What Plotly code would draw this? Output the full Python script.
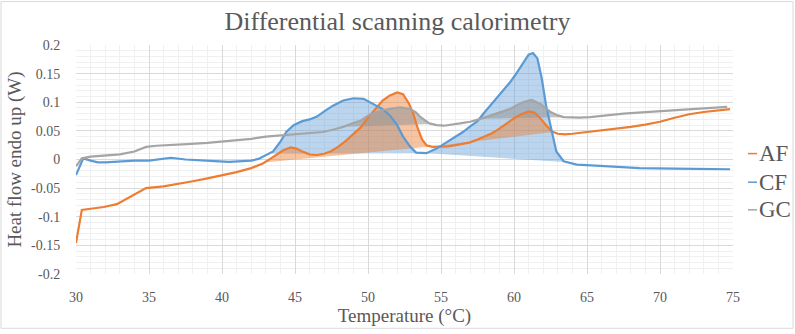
import numpy as np
import plotly.graph_objects as go

# ---------------- data ----------------
series_names = ["AF", "CF", "GC"]

af_t = [30.0, 30.4, 31.0, 31.9, 32.8, 33.5, 34.2, 34.8, 36.0, 37.0, 38.0, 39.0, 40.0, 41.0, 42.0,
        42.8, 43.3, 43.7, 44.2, 44.7, 45.1, 45.5, 46.0, 46.5, 47.0, 47.5, 48.0, 48.5, 49.0, 49.5,
        50.0, 50.5, 51.0, 51.5, 52.0, 52.4, 52.8, 53.1, 53.4, 53.7, 54.0, 54.4, 55.0, 55.5, 56.0,
        56.5, 57.0, 57.5, 58.0, 58.5, 59.0, 59.5, 60.0, 60.5, 61.0, 61.4, 61.8, 62.2, 62.6, 63.0,
        63.5, 64.0, 65.0, 66.0, 67.0, 68.0, 69.0, 70.0, 71.0, 72.0, 73.0, 74.0, 74.8]
af_y = [-0.146, -0.088, -0.086, -0.083, -0.078, -0.068, -0.058, -0.050, -0.047, -0.043, -0.038,
        -0.033, -0.028, -0.022, -0.015, -0.007, 0.001, 0.008, 0.016, 0.021, 0.019, 0.014, 0.009,
        0.008, 0.010, 0.015, 0.023, 0.033, 0.044, 0.056, 0.073, 0.088, 0.103, 0.112, 0.117, 0.114,
        0.098, 0.080, 0.055, 0.035, 0.025, 0.022, 0.022, 0.023, 0.025, 0.027, 0.030, 0.035, 0.040,
        0.046, 0.054, 0.063, 0.072, 0.079, 0.084, 0.082, 0.072, 0.060, 0.049, 0.045, 0.044, 0.045,
        0.048, 0.051, 0.053, 0.057, 0.061, 0.066, 0.073, 0.079, 0.083, 0.086, 0.088]

cf_t = [30.0, 30.2, 30.5, 31.0, 31.5, 32.0, 33.0, 34.0, 35.0, 36.0, 36.5, 37.5, 38.5, 39.5, 40.5,
        41.5, 42.0, 42.5, 42.8, 43.2, 43.5, 44.0, 44.4, 44.9, 45.5, 46.0, 46.5, 47.0, 47.6, 48.3,
        49.0, 49.7, 50.4, 51.0, 51.5, 52.0, 52.4, 52.9, 53.3, 54.0, 54.7, 55.6, 56.5, 57.0, 57.5,
        57.9, 58.4, 58.8, 59.3, 59.7, 60.1, 60.4, 60.7, 61.0, 61.3, 61.6, 61.9, 62.2, 62.6, 62.9,
        63.4, 64.3, 65.9, 68.6, 71.0, 74.8]
cf_y = [-0.027, -0.015, 0.002, -0.002, -0.005, -0.005, -0.003, -0.002, -0.002, 0.001, 0.003,
        0.000, -0.002, -0.003, -0.004, -0.003, -0.002, 0.001, 0.005, 0.009, 0.014, 0.031, 0.048,
        0.060, 0.067, 0.070, 0.075, 0.084, 0.094, 0.103, 0.107, 0.106, 0.097, 0.088, 0.077, 0.060,
        0.040, 0.022, 0.012, 0.011, 0.019, 0.034, 0.048, 0.058, 0.067, 0.080, 0.095, 0.108, 0.121,
        0.134, 0.148, 0.160, 0.172, 0.183, 0.186, 0.177, 0.142, 0.094, 0.048, 0.014, -0.003,
        -0.009, -0.011, -0.015, -0.016, -0.017]

gc_t = [30.0, 30.4, 31.0, 31.9, 33.0, 34.0, 34.8, 35.5, 36.5, 37.6, 39.0, 40.0, 41.0, 42.0, 43.0,
        44.0, 45.1, 46.0, 46.9, 47.6, 48.3, 48.8, 49.5, 50.1, 50.6, 51.0, 51.6, 52.2, 52.9, 53.3,
        53.6, 54.2, 54.7, 55.2, 56.3, 57.0, 57.7, 58.4, 59.0, 59.7, 60.2, 60.6, 61.2, 61.8, 62.5,
        63.0, 63.4, 64.5, 65.2, 65.9, 67.5, 69.8, 72.1, 73.5, 74.6]
gc_y = [-0.012, 0.002, 0.005, 0.007, 0.009, 0.014, 0.022, 0.024, 0.026, 0.027, 0.029, 0.031,
        0.033, 0.036, 0.040, 0.042, 0.044, 0.046, 0.048, 0.052, 0.057, 0.062, 0.068, 0.078, 0.083,
        0.086, 0.089, 0.091, 0.088, 0.082, 0.074, 0.063, 0.060, 0.059, 0.063, 0.066, 0.071, 0.077,
        0.082, 0.088, 0.095, 0.100, 0.104, 0.097, 0.083, 0.077, 0.074, 0.073, 0.074, 0.076, 0.080,
        0.084, 0.088, 0.090, 0.092]

# integration windows (peak start / end temperatures)
af_peaks = [(42.9, 54.3), (54.3, 62.7)]
cf_peaks = [(43.3, 53.9), (53.9, 63.7)]
gc_peaks = [(48.3, 54.4), (57.7, 63.4)]

x_ticks = [30, 35, 40, 45, 50, 55, 60, 65, 70, 75]
y_ticks = [0.2, 0.15, 0.1, 0.05, 0, -0.05, -0.1, -0.15, -0.2]
y_tick_labels = ["0.2", "0.15", "0.1", "0.05", "0", "-0.05", "-0.1", "-0.15", "-0.2"]

# ---------------- styling ----------------
line_colors = {"AF": "#ED7D31", "CF": "#5B9BD5", "GC": "#A5A5A5"}
fill_colors = {"AF": "rgba(237,125,49,0.45)", "CF": "rgba(91,155,213,0.42)",
               "GC": "rgba(150,150,150,0.55)"}
FONT = "Liberation Serif, Times New Roman, serif"
TXT = "#595959"

data = {"AF": (af_t, af_y, af_peaks), "CF": (cf_t, cf_y, cf_peaks), "GC": (gc_t, gc_y, gc_peaks)}


def peak_polygon(t, y, t0, t1):
    t = np.asarray(t)
    y = np.asarray(y)
    inside = (t > t0) & (t < t1)
    xs = [t0] + list(t[inside]) + [t1]
    ys = [float(np.interp(t0, t, y))] + list(y[inside]) + [float(np.interp(t1, t, y))]
    return xs, ys


fig = go.Figure()

# shaded peak areas (chord baseline closes each polygon)
for name in ["CF", "AF", "GC"]:
    t, y, peaks = data[name]
    for (t0, t1) in peaks:
        xs, ys = peak_polygon(t, y, t0, t1)
        fig.add_trace(go.Scatter(x=xs, y=ys, mode="lines", fill="toself",
                                 fillcolor=fill_colors[name], line=dict(width=0),
                                 hoverinfo="skip", showlegend=False))

# curves
for name in series_names:
    t, y, _ = data[name]
    fig.add_trace(go.Scatter(x=t, y=y, mode="lines", name=name,
                             line=dict(color=line_colors[name], width=2.2),
                             showlegend=False))

# plot area geometry in px (for custom legend and border)
L, R, T, B = 76, 733, 45, 277
W, H = R - L, B - T


def px_x(p):
    return (p - L) / W


def px_y(p):
    return (B - p) / H


shapes = [dict(type="rect", xref="paper", yref="paper",
               x0=px_x(1), x1=px_x(793), y0=px_y(332), y1=px_y(1),
               line=dict(color="#D9D9D9", width=1), fillcolor="rgba(0,0,0,0)", layer="below")]
annotations = []
legend_y = [155, 184, 212]
for name, ly in zip(series_names, legend_y):
    shapes.append(dict(type="line", xref="paper", yref="paper",
                       x0=px_x(748), x1=px_x(757), y0=px_y(ly), y1=px_y(ly),
                       line=dict(color=line_colors[name], width=1.5)))
    annotations.append(dict(text=name, xref="paper", yref="paper", x=px_x(757), y=px_y(ly),
                            xanchor="left", yanchor="middle", showarrow=False,
                            font=dict(family=FONT, size=23, color=TXT)))

fig.update_layout(
    width=795, height=334,
    margin=dict(l=L, r=795 - R, t=T, b=334 - B),
    paper_bgcolor="white", plot_bgcolor="white",
    title=dict(text="Differential scanning calorimetry", x=0.5, xanchor="center",
               y=1 - 21 / 334, yanchor="middle",
               font=dict(family=FONT, size=26, color=TXT)),
    shapes=shapes, annotations=annotations,
    showlegend=False,
)
fig.update_xaxes(range=[30, 75], tickvals=x_ticks, ticktext=[str(v) for v in x_ticks],
                 showgrid=True, gridcolor="#D9D9D9", gridwidth=1, zeroline=False,
                 minor=dict(dtick=1, showgrid=True, gridcolor="#F0F0F0"),
                 ticks="outside", ticklen=10, tickcolor="rgba(0,0,0,0)",
                 tickfont=dict(family=FONT, size=14, color=TXT),
                 title=dict(text="Temperature (°C)", standoff=4,
                            font=dict(family=FONT, size=19, color=TXT)),
                 showline=False)
fig.update_yaxes(range=[-0.2, 0.2], tickvals=y_ticks, ticktext=y_tick_labels,
                 showgrid=True, gridcolor="#D9D9D9", gridwidth=1, zeroline=False,
                 minor=dict(dtick=0.01, showgrid=True, gridcolor="#F0F0F0"),
                 ticks="outside", ticklen=12, tickcolor="rgba(0,0,0,0)",
                 tickfont=dict(family=FONT, size=14, color=TXT),
                 title=dict(text="Heat flow endo up (W)", standoff=4,
                            font=dict(family=FONT, size=19, color=TXT)),
                 showline=False)

fig.write_html("out.html", config={"displayModeBar": False},
               post_script="document.body.style.margin='0';")
